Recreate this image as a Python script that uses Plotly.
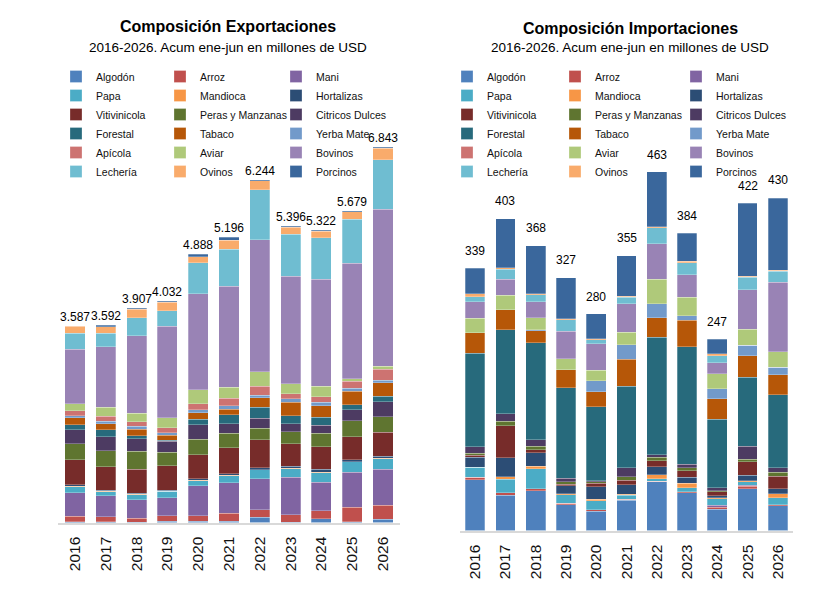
import plotly.graph_objects as go

# Categories (x axis)
years = ["2016", "2017", "2018", "2019", "2020", "2021", "2022", "2023", "2024", "2025", "2026"]

names = ["Algodón", "Arroz", "Mani", "Papa", "Mandioca", "Hortalizas",
         "Vitivinicola", "Peras y Manzanas", "Citricos Dulces", "Forestal", "Tabaco", "Yerba Mate",
         "Apícola", "Aviar", "Bovinos", "Lechería", "Ovinos", "Porcinos"]

# Exportaciones, millones de USD (acum ene-jun)
exp_algodon = [15, 18, 5, 27, 27, 27, 100, 5, 64, 18, 58]
exp_arroz = [98, 91, 77, 97, 97, 140, 133, 137, 151, 262, 255]
exp_mani = [432, 375, 333, 328, 547, 558, 565, 680, 517, 638, 656]
exp_papa = [109, 80, 91, 117, 86, 128, 159, 159, 175, 188, 193]
exp_mandioca = [5, 5, 5, 5, 9, 5, 9, 5, 5, 5, 5]
exp_hortalizas = [27, 15, 26, 18, 33, 31, 33, 36, 55, 36, 44]
exp_vitivinicola = [456, 430, 437, 443, 432, 474, 510, 414, 412, 419, 430]
exp_peras = [292, 292, 322, 244, 286, 268, 208, 219, 250, 292, 286]
exp_citricos = [255, 255, 230, 200, 261, 169, 182, 146, 146, 200, 273]
exp_forestal = [97, 128, 55, 24, 104, 164, 206, 146, 146, 86, 97]
exp_tabaco = [122, 109, 122, 91, 115, 104, 169, 242, 206, 248, 250]
exp_yerba = [36, 44, 49, 42, 55, 60, 49, 62, 62, 55, 49]
exp_apicola = [97, 97, 84, 91, 109, 135, 159, 97, 102, 128, 193]
exp_aviar = [122, 159, 159, 182, 255, 206, 266, 182, 195, 44, 55]
exp_bovinos = [991, 1104, 1408, 1671, 1749, 1839, 2408, 1955, 1951, 2105, 2862]
exp_lecheria = [292, 250, 328, 279, 565, 669, 911, 771, 752, 802, 906]
exp_ovinos = [128, 115, 159, 159, 115, 164, 164, 122, 115, 135, 213]
exp_porcinos = [13, 31, 18, 13, 44, 55, 13, 18, 18, 18, 18]
exp_total = [3587, 3592, 3907, 4032, 4888, 5196, 6244, 5396, 5322, 5679, 6843]

# Importaciones, millones de USD (acum ene-jun)
imp_algodon = [65.5, 45.8, 51, 33.3, 24.8, 39.3, 62.6, 49, 27.7, 53.9, 32]
imp_arroz = [3.5, 2.6, 2.6, 1.8, 2.1, 0.9, 0.9, 0.8, 2.2, 3.1, 1.3]
imp_mani = [0, 0, 0, 0, 0, 0, 0, 0, 3, 1.3, 0]
imp_papa = [12.9, 17.7, 26.2, 11.1, 11.6, 5.2, 3.4, 5.2, 8.1, 4.3, 9]
imp_mandioca = [0, 3, 3.1, 1.5, 1.8, 1.7, 4.8, 6.1, 1.3, 1.3, 5.2]
imp_hortalizas = [12.9, 24.9, 17.2, 9.8, 16.3, 12, 10.7, 7.7, 2.6, 7.4, 6.5]
imp_vitivinicola = [2.2, 40.9, 4.3, 2.2, 4.4, 6, 7.4, 8.1, 5.2, 17.2, 16]
imp_peras = [3, 6, 4.4, 3.5, 1.7, 4.3, 4.8, 3.9, 1.3, 3.5, 5.2]
imp_citricos = [8.1, 9.8, 8.5, 4.3, 1.7, 11.6, 3, 4.8, 3.9, 16.8, 5.5]
imp_forestal = [120.5, 108.4, 125.1, 116.5, 95.1, 105.4, 151.8, 151.3, 88.2, 89, 94.6]
imp_tabaco = [26.6, 25.8, 15.5, 23.7, 19.7, 34.8, 25.3, 34.4, 26.6, 27.9, 25.8]
imp_yerba = [0, 0, 0.9, 0, 14.2, 18.4, 18.1, 5.5, 12.5, 13.4, 9.5]
imp_apicola = [0, 0, 0, 0, 0, 0, 0, 0, 0, 0, 0]
imp_aviar = [18.6, 18.6, 15.5, 13.7, 13.4, 16.4, 31.5, 24.1, 19.4, 20.6, 20.1]
imp_bovinos = [21.4, 21, 21, 35.7, 33.9, 36.5, 45.5, 28.8, 14.2, 51.1, 89.9]
imp_lecheria = [6.5, 12.9, 8.6, 15.1, 5.2, 8.3, 21, 15.5, 9.4, 16, 13.8]
imp_ovinos = [3.9, 1.7, 1.3, 0.8, 1.3, 1.3, 1.3, 2.2, 2.2, 1.3, 1.7]
imp_porcinos = [32.8, 63.2, 62.3, 53.4, 32.3, 52.4, 71, 36.1, 19, 94.2, 92.5]
imp_total = [339, 403, 368, 327, 280, 355, 463, 384, 247, 422, 430]

exp_series = [exp_algodon, exp_arroz, exp_mani, exp_papa, exp_mandioca, exp_hortalizas,
              exp_vitivinicola, exp_peras, exp_citricos, exp_forestal, exp_tabaco, exp_yerba,
              exp_apicola, exp_aviar, exp_bovinos, exp_lecheria, exp_ovinos, exp_porcinos]
imp_series = [imp_algodon, imp_arroz, imp_mani, imp_papa, imp_mandioca, imp_hortalizas,
              imp_vitivinicola, imp_peras, imp_citricos, imp_forestal, imp_tabaco, imp_yerba,
              imp_apicola, imp_aviar, imp_bovinos, imp_lecheria, imp_ovinos, imp_porcinos]

# Excel-like palette
colors = ["#4F81BD", "#C0504D", "#8064A2", "#4BACC6", "#F79646", "#2C4D75",
          "#772C2A", "#5F7530", "#4D3B62", "#276A7C", "#B65708", "#729ACA",
          "#CD7371", "#AFC97A", "#9983B5", "#6FBDD1", "#F9AB6B", "#3A679C"]

FONT = "Liberation Sans, Arial, sans-serif"
# page body adds an 8px margin, so the figure is 8px smaller and positions are shifted
OFF = 8
W, H = 828 - OFF, 596 - OFF


def px(x):
    return (x - OFF) / W


def py(y):
    return 1 - (y - OFF) / H


fig = go.Figure()

# one legend per column, 3 columns for each chart
for i, name in enumerate(names):
    fig.add_trace(go.Bar(
        x=years, y=exp_series[i], name=name, xaxis="x", yaxis="y",
        legend=["legend", "legend2", "legend3"][i % 3],
        marker=dict(color=colors[i], line=dict(color="rgba(255,255,255,0.45)", width=0.6)),
        hovertemplate=name + " %{x}: %{y}<extra></extra>"))

for i, name in enumerate(names):
    fig.add_trace(go.Bar(
        x=years, y=imp_series[i], name=name, xaxis="x2", yaxis="y2",
        legend=["legend4", "legend5", "legend6"][i % 3],
        marker=dict(color=colors[i], line=dict(color="rgba(255,255,255,0.45)", width=0.6)),
        hovertemplate=name + " %{x}: %{y}<extra></extra>"))

# totals on top of bars (category index as x, numeric strings would be read as positions)
annotations = []
for k, tot in enumerate(exp_total):
    annotations.append(dict(x=k, y=tot, xref="x", yref="y", text=f"{tot:,}".replace(",", "."),
                            showarrow=False, xanchor="center", yanchor="bottom", yshift=0,
                            font=dict(size=12, color="#000000")))
for k, tot in enumerate(imp_total):
    annotations.append(dict(x=k, y=tot, xref="x2", yref="y2", text=str(tot),
                            showarrow=False, xanchor="center", yanchor="bottom", yshift=8,
                            font=dict(size=12, color="#000000")))

# titles
annotations += [
    dict(x=px(228), y=py(26), xref="paper", yref="paper", text="<b>Composición Exportaciones</b>",
         showarrow=False, xanchor="center", yanchor="middle", font=dict(size=16, color="#000000")),
    dict(x=px(228), y=py(47), xref="paper", yref="paper",
         text="2016-2026. Acum ene-jun en millones de USD",
         showarrow=False, xanchor="center", yanchor="middle", font=dict(size=13.5, color="#000000")),
    dict(x=px(630), y=py(29), xref="paper", yref="paper", text="<b>Composición Importaciones</b>",
         showarrow=False, xanchor="center", yanchor="middle", font=dict(size=16, color="#000000")),
    dict(x=px(630), y=py(48), xref="paper", yref="paper",
         text="2016-2026. Acum ene-jun en millones de USD",
         showarrow=False, xanchor="center", yanchor="middle", font=dict(size=13.5, color="#000000")),
]

leg = dict(font=dict(size=10.5, color="#111111"), bgcolor="rgba(0,0,0,0)", traceorder="normal",
           xanchor="left", yanchor="top", y=py(62), tracegroupgap=0)

xcommon = dict(type="category", showline=True, linecolor="#D9D9D9", linewidth=2,
               ticks="", tickangle=-90, tickfont=dict(size=15.5, color="#111111"),
               ticklabelstandoff=6, showgrid=False, zeroline=False)

layout = go.Layout(
    width=W, height=H, barmode="stack", bargap=0.35,
    margin=dict(l=0, r=0, t=0, b=0),
    paper_bgcolor="white", plot_bgcolor="white",
    font=dict(family=FONT, color="#000000"),
    xaxis=dict(xcommon, domain=[px(58), px(400)], anchor="y"),
    yaxis=dict(domain=[py(522.5), py(60)], range=[0, 8429], visible=False, anchor="x"),
    xaxis2=dict(xcommon, domain=[px(460), px(793)], anchor="y2"),
    yaxis2=dict(domain=[py(530.5), py(60)], range=[0, 607.1], visible=False, anchor="x2"),
    legend=dict(leg, x=px(56)),
    legend2=dict(leg, x=px(160)),
    legend3=dict(leg, x=px(276)),
    legend4=dict(leg, x=px(447)),
    legend5=dict(leg, x=px(555)),
    legend6=dict(leg, x=px(676)),
    annotations=annotations,
)
fig.update_layout(layout)

fig.write_html("out.html")
